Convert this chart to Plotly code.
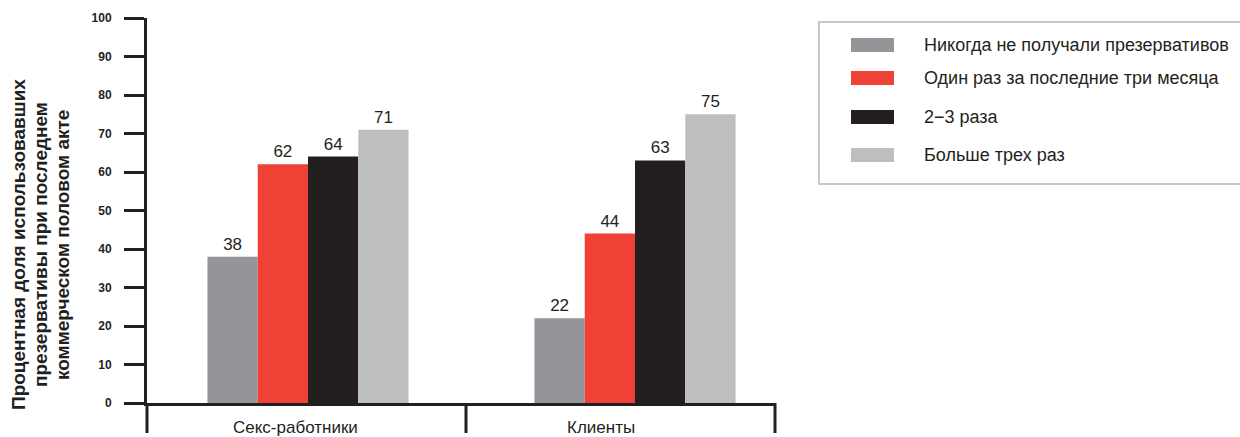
import plotly.graph_objects as go

categories = ["Секс-работники", "Клиенты"]
series_names = [
    "Никогда не получали презервативов",
    "Один раз за последние три месяца",
    "2\u22123 раза",
    "Больше трех раз",
]
never_vals = [38, 22]
once_vals = [62, 44]
two_three_vals = [64, 63]
more_vals = [71, 75]
series_values = [never_vals, once_vals, two_three_vals, more_vals]
colors = ["#939598", "#ef4136", "#231f20", "#bcbec0"]
y_ticks = [0, 10, 20, 30, 40, 50, 60, 70, 80, 90, 100]
y_title_lines = [
    "Процентная доля использовавших",
    "презервативы при последнем",
    "коммерческом половом акте",
]

TXT = "#231f20"
FONT = "Liberation Sans, Arial, sans-serif"

fig = go.Figure()
for name, vals, col in zip(series_names, series_values, colors):
    fig.add_trace(go.Bar(
        x=categories, y=vals, name=name, marker=dict(color=col, line=dict(width=0)),
        text=[str(v) for v in vals], textposition="outside",
        textfont=dict(size=17, color=TXT, family=FONT), cliponaxis=False,
        showlegend=False,
    ))

# plot area in pixels: x 147..775, y 18..403
L, R, T, B = 147, 775, 18, 403
W, H = R - L, B - T
def px(x):
    return (x - L) / W
def py(y):
    return (B - y) / H

shapes = []
annotations = []
# axis extensions / category dividers
for xx in [147, 466, 775]:
    shapes.append(dict(type="line", xref="paper", yref="paper",
                       x0=px(xx), x1=px(xx), y0=py(403), y1=py(433),
                       line=dict(color=TXT, width=3)))
# category labels
for cat, xx in zip(categories, [295, 601]):
    annotations.append(dict(text=cat, xref="paper", yref="paper", x=px(xx), y=py(428),
                            xanchor="center", yanchor="middle", showarrow=False,
                            font=dict(size=17, color=TXT, family=FONT)))
# legend box
shapes.append(dict(type="rect", xref="paper", yref="paper",
                   x0=px(819), x1=px(1250), y0=py(184), y1=py(22),
                   line=dict(color="#c7c8ca", width=2), fillcolor="rgba(0,0,0,0)"))
row_y = [45, 78, 117, 155]
for name, col, yy in zip(series_names, colors, row_y):
    shapes.append(dict(type="rect", xref="paper", yref="paper",
                       x0=px(851), x1=px(894), y0=py(yy + 7), y1=py(yy - 7),
                       line=dict(width=0), fillcolor=col))
    annotations.append(dict(text=name, xref="paper", yref="paper", x=px(922), y=py(yy),
                            xanchor="left", yanchor="middle", showarrow=False,
                            font=dict(size=18, color=TXT, family=FONT)))
# y title
for line, xx in zip(y_title_lines, [18, 40, 62]):
    annotations.append(dict(text="<b>" + line + "</b>", xref="paper", yref="paper",
                            x=px(xx), y=py(245), textangle=-90, showarrow=False,
                            xanchor="center", yanchor="middle",
                            font=dict(size=19, color=TXT, family=FONT)))

# x axis: cat 0 at 308 px, cat 1 at 635 px
k = 635 - 308
x_range = [(L - 308) / k, (R - 308) / k]

fig.update_layout(
    width=1240, height=437,
    margin=dict(l=L, r=1240 - R, t=T, b=437 - B),
    paper_bgcolor="white", plot_bgcolor="white",
    barmode="group", bargap=0.385, bargroupgap=0,
    shapes=shapes, annotations=annotations,
    font=dict(family=FONT, color=TXT),
    xaxis=dict(
        range=x_range, showline=True, linecolor=TXT, linewidth=3,
        ticks="", showticklabels=False, showgrid=False, zeroline=False,
    ),
    yaxis=dict(
        range=[0, 100], tickvals=y_ticks, showline=True, linecolor=TXT, linewidth=3,
        ticks="outside", ticklen=20, tickwidth=3, tickcolor=TXT,
        tickfont=dict(size=12, color=TXT, family=FONT, weight="bold"), ticklabelstandoff=10,
        showgrid=False, zeroline=False,
    ),
)

fig.write_html("out.html")
